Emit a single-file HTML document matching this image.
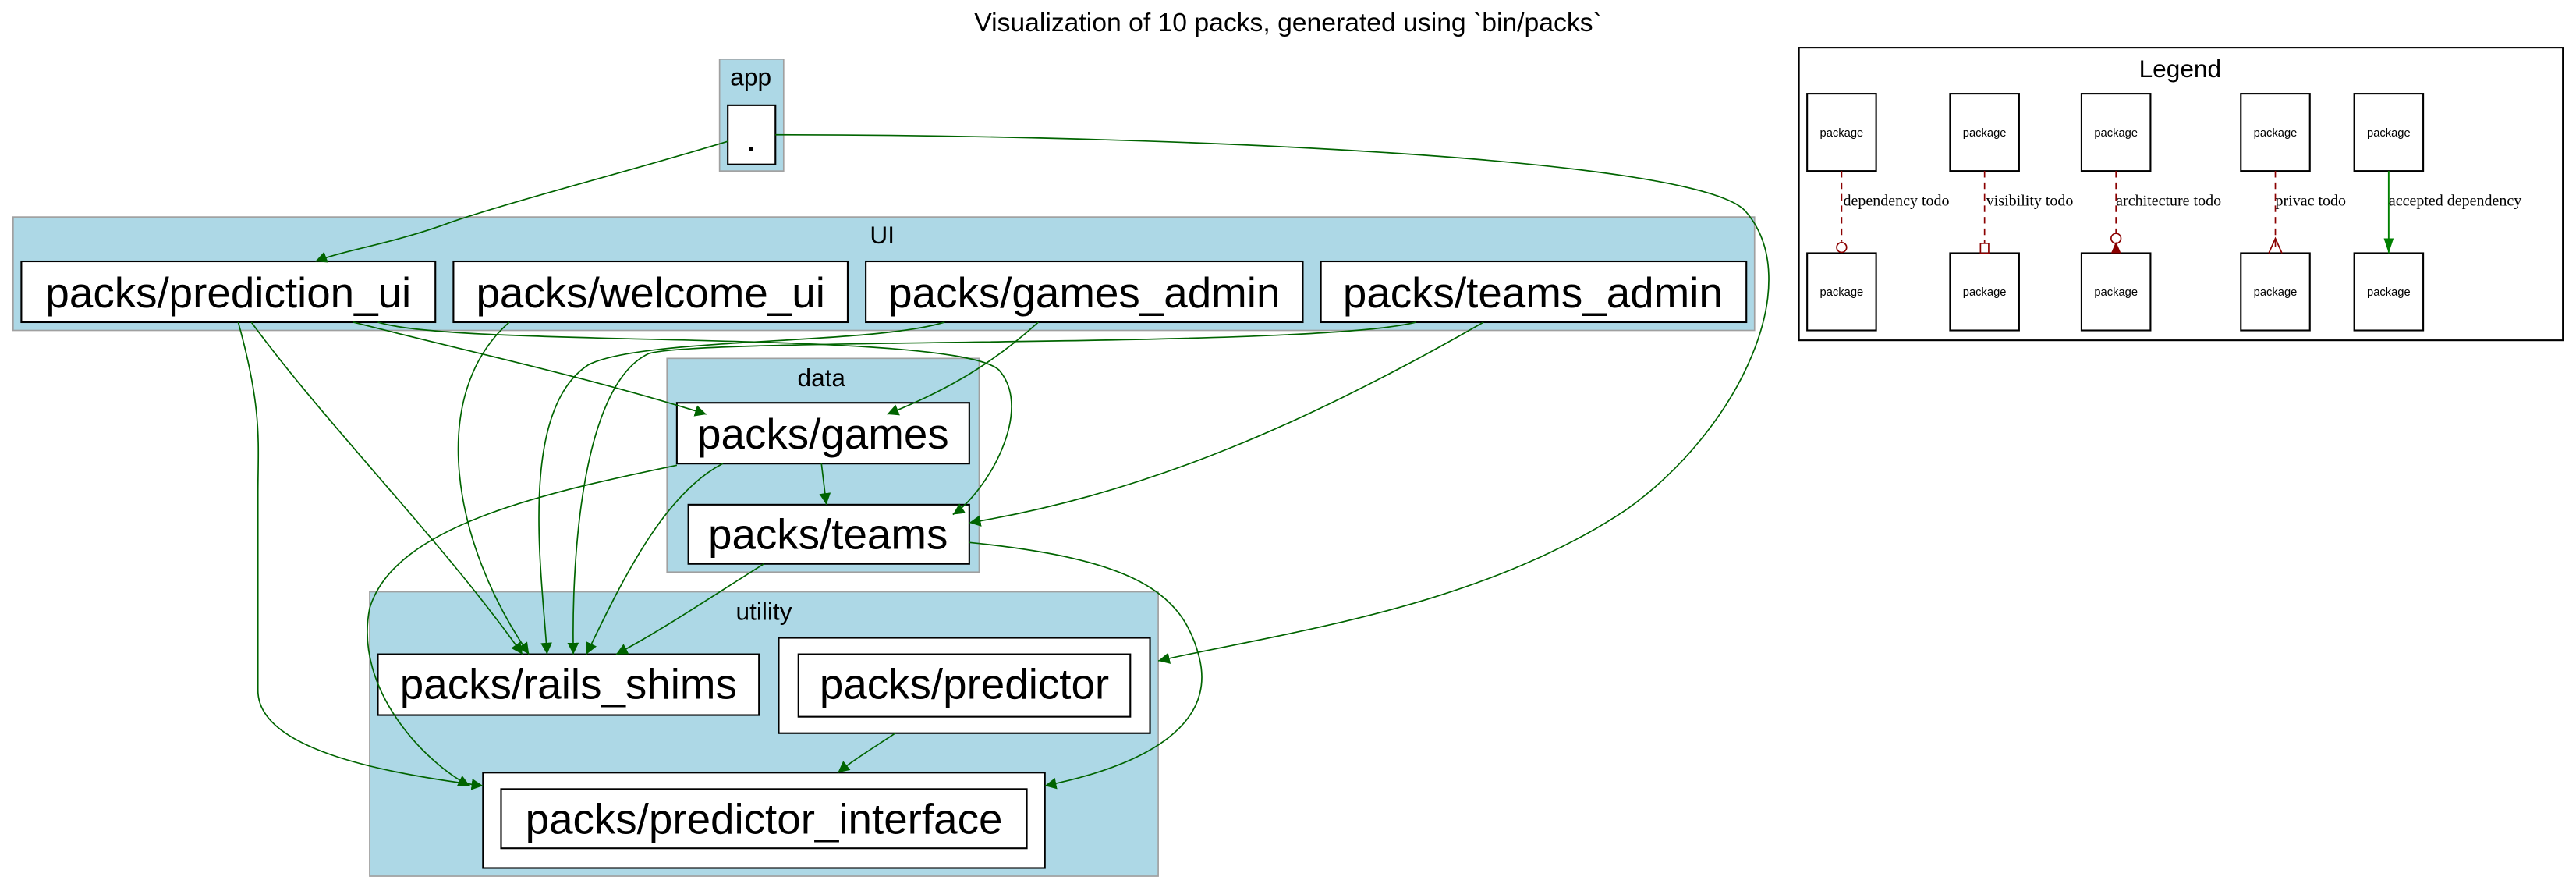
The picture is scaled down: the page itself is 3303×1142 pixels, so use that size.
<!DOCTYPE html>
<html><head><meta charset="utf-8"><style>
html,body{margin:0;padding:0;background:#fff;overflow:hidden}
svg{display:block}
text{font-family:"Liberation Sans",sans-serif}
text.s{font-family:"Liberation Serif",serif}
</style></head><body>
<svg width="3303" height="1142" viewBox="0 0 1568 542" preserveAspectRatio="none" xmlns="http://www.w3.org/2000/svg">
<defs>
<marker id="a" viewBox="0 0 10 10" refX="10" refY="5" markerWidth="7" markerHeight="7" markerUnits="userSpaceOnUse" orient="auto"><path d="M0,0L10,5L0,10z" fill="#006400"/></marker>
</defs>
<text x="784" y="19" font-size="16" text-anchor="middle">Visualization of 10 packs, generated using `bin/packs`</text>
<!-- clusters -->
<rect x="438" y="36" width="39" height="68" fill="#add8e6" stroke="#a0a0a0" stroke-width="0.8"/>
<text x="457" y="52" font-size="15" text-anchor="middle">app</text>
<rect x="443" y="64" width="29" height="36" fill="#fff" stroke="#000" stroke-width="1"/>
<text x="457" y="92" font-size="24" text-anchor="middle">.</text>

<rect x="8" y="132" width="1060" height="69" fill="#add8e6" stroke="#a0a0a0" stroke-width="0.8"/>
<text x="537" y="148" font-size="15" text-anchor="middle">UI</text>
<g fill="#fff" stroke="#000" stroke-width="1">
<rect x="13" y="159" width="252" height="37"/>
<rect x="276" y="159" width="240" height="37"/>
<rect x="527" y="159" width="266" height="37"/>
<rect x="804" y="159" width="259" height="37"/>
</g>
<g font-size="26" text-anchor="middle">
<text x="139" y="187">packs/prediction_ui</text>
<text x="396" y="187">packs/welcome_ui</text>
<text x="660" y="187">packs/games_admin</text>
<text x="933" y="187">packs/teams_admin</text>
</g>

<rect x="406" y="218" width="190" height="130" fill="#add8e6" stroke="#a0a0a0" stroke-width="0.8"/>
<text x="500" y="235" font-size="15" text-anchor="middle">data</text>
<rect x="412" y="245" width="178" height="37" fill="#fff" stroke="#000"/>
<text x="501" y="273" font-size="26" text-anchor="middle">packs/games</text>
<rect x="419" y="307" width="171" height="36" fill="#fff" stroke="#000"/>
<text x="504" y="334" font-size="26" text-anchor="middle">packs/teams</text>

<rect x="225" y="360" width="480" height="173" fill="#add8e6" stroke="#a0a0a0" stroke-width="0.8"/>
<text x="465" y="377" font-size="15" text-anchor="middle">utility</text>
<rect x="230" y="398" width="232" height="37" fill="#fff" stroke="#000"/>
<text x="346" y="425" font-size="26" text-anchor="middle">packs/rails_shims</text>
<rect x="474" y="388" width="226" height="58" fill="#fff" stroke="#000"/>
<rect x="486" y="398" width="202" height="38" fill="#fff" stroke="#000"/>
<text x="587" y="425" font-size="26" text-anchor="middle">packs/predictor</text>
<rect x="294" y="470" width="342" height="58" fill="#fff" stroke="#000"/>
<rect x="305" y="480" width="320" height="36" fill="#fff" stroke="#000"/>
<text x="465" y="507" font-size="26" text-anchor="middle">packs/predictor_interface</text>

<!-- edges -->
<g fill="none" stroke="#006400" stroke-width="0.8" marker-end="url(#a)">
<path d="M443,86 C380,105 320,120 275,135 C240,148 210,152 192,159"/>
<path d="M472,82 C700,82 1030,95 1062,128 C1100,170 1060,260 990,310 C900,370 780,385 705,402"/>
<path d="M215,196 C290,215 360,230 430,252"/>
<path d="M145,196 C160,250 157,270 157,300 L157,420 C157,455 230,470 294,478"/>
<path d="M153,196 C200,260 270,330 318,398"/>
<path d="M230,196 C280,212 580,200 608,225 C630,250 600,300 580,313"/>
<path d="M310,196 C260,240 275,330 322,398"/>
<path d="M575,196 C530,210 390,205 358,222 C315,250 330,350 333,398"/>
<path d="M632,196 C600,225 570,240 540,252"/>
<path d="M862,196 C800,212 430,205 395,215 C352,235 348,350 349,398"/>
<path d="M903,196 C800,255 700,300 590,318"/>
<path d="M412,283 C330,300 240,320 225,370 C215,420 260,465 286,478"/>
<path d="M440,282 C405,300 380,350 357,398"/>
<path d="M500,282 L503,307"/>
<path d="M465,343 C430,365 400,385 375,398"/>
<path d="M590,330 C690,340 720,360 730,400 C740,440 700,465 636,478"/>
<path d="M545,446 C530,456 520,462 510,470"/>
</g>

<!-- legend -->
<rect x="1095" y="29" width="465" height="178" fill="#fff" stroke="#000" stroke-width="1"/>
<text x="1327" y="47" font-size="15" text-anchor="middle">Legend</text>
<g fill="#fff" stroke="#000" stroke-width="1">
<rect x="1100" y="57" width="42" height="47"/><rect x="1187" y="57" width="42" height="47"/><rect x="1267" y="57" width="42" height="47"/><rect x="1364" y="57" width="42" height="47"/><rect x="1433" y="57" width="42" height="47"/>
<rect x="1100" y="154" width="42" height="47"/><rect x="1187" y="154" width="42" height="47"/><rect x="1267" y="154" width="42" height="47"/><rect x="1364" y="154" width="42" height="47"/><rect x="1433" y="154" width="42" height="47"/>
</g>
<g font-size="7" text-anchor="middle">
<text x="1121" y="83">package</text><text x="1208" y="83">package</text><text x="1288" y="83">package</text><text x="1385" y="83">package</text><text x="1454" y="83">package</text>
<text x="1121" y="180">package</text><text x="1208" y="180">package</text><text x="1288" y="180">package</text><text x="1385" y="180">package</text><text x="1454" y="180">package</text>
</g>
<g stroke="#8b0000" stroke-width="0.8" stroke-dasharray="4,3" fill="none">
<path d="M1121,104 V147"/><path d="M1208,104 V148"/><path d="M1288,104 V142"/><path d="M1385,104 V152"/>
</g>
<g stroke="#8b0000" stroke-width="0.8" fill="none">
<circle cx="1121" cy="150.5" r="3"/>
<rect x="1205.5" y="148" width="5" height="6"/>
<circle cx="1288" cy="145" r="3"/>
<path d="M1381,154 L1385,145 L1389,154"/>
</g>
<path d="M1285,154 L1288,147 L1291,154z" fill="#8b0000"/>
<path d="M1454,104 V154" stroke="#008000" stroke-width="0.9" fill="none"/>
<path d="M1451,145 L1454,154 L1457,145z" fill="#008000"/>
<g font-size="9.5">
<text class="s" x="1122" y="125">dependency todo</text>
<text class="s" x="1209" y="125">visibility todo</text>
<text class="s" x="1288" y="125">architecture todo</text>
<text class="s" x="1385" y="125">privac todo</text>
<text class="s" x="1454" y="125">accepted dependency</text>
</g>
</svg>
</body></html>
